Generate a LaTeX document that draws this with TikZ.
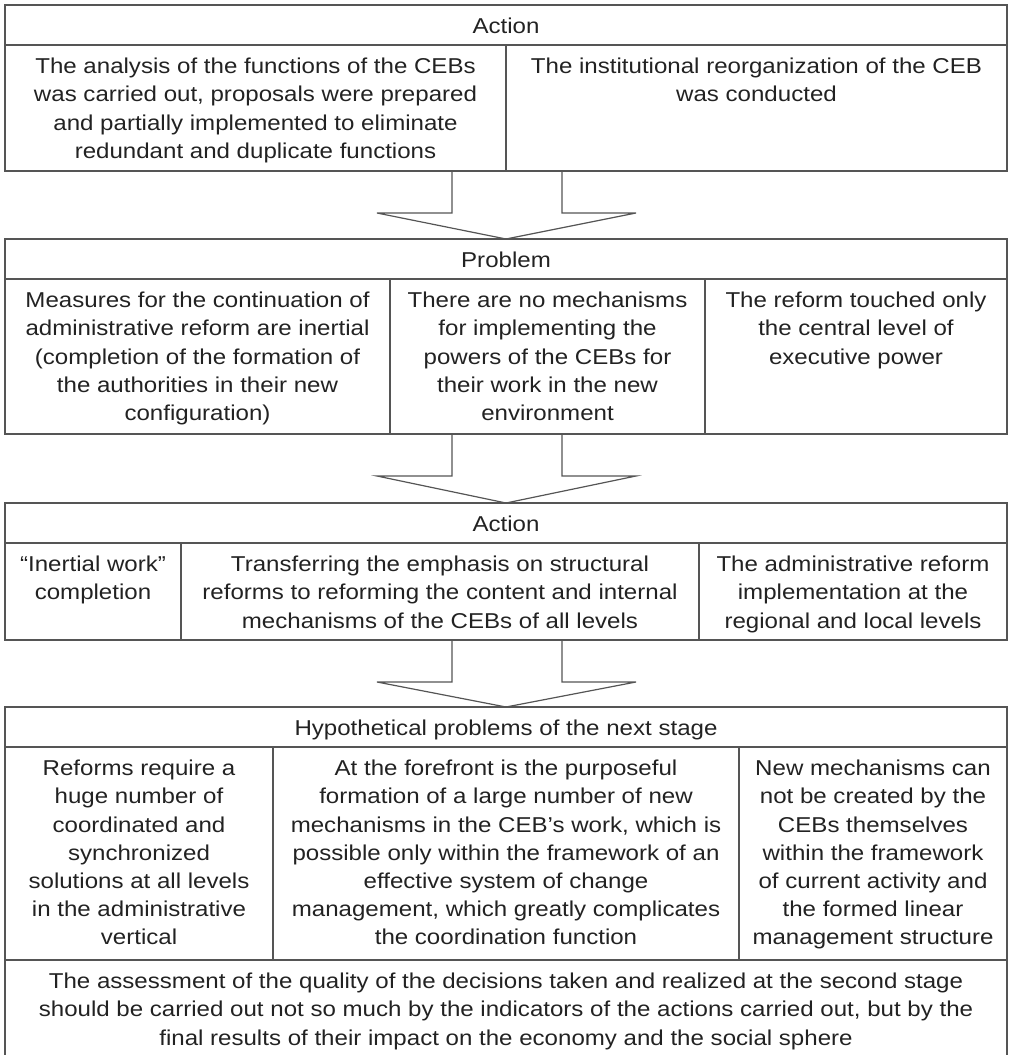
\documentclass[tikz,border=0pt]{standalone}
\usepackage{fontspec}
\setmainfont{Liberation Sans}[FakeStretch=1.12]
\usetikzlibrary{calc}
\definecolor{linec}{HTML}{555555}
\definecolor{textc}{HTML}{222222}
\tikzset{
  cell/.style={draw=linec, line width=1.2pt, anchor=north west, inner sep=0pt, outer sep=0pt},
  ctext/.style={anchor=north, inner sep=0pt, align=center, text=textc,
                font=\fontsize{21.5}{28.2}\selectfont},
  blockarrow/.style={draw=linec, line width=1.2pt, line join=miter}
}
\newcommand\fst{\rule{0pt}{17pt}}
\begin{document}
\begin{tikzpicture}[x=1pt,y=-1pt]
\useasboundingbox (0,0) rectangle (1009,1055);
% ---- box 1
\node[cell, minimum width=1002pt, minimum height=40pt] (h1) at (5,5) {};
\node[cell, minimum width=501pt, minimum height=126pt] (c11) at (5,45) {};
\node[cell, minimum width=501pt, minimum height=126pt] (c12) at (506,45) {};
% ---- box 2
\node[cell, minimum width=1002pt, minimum height=40pt] (h2) at (5,239) {};
\node[cell, minimum width=385pt, minimum height=155pt] (c21) at (5,279) {};
\node[cell, minimum width=315pt, minimum height=155pt] (c22) at (390,279) {};
\node[cell, minimum width=302pt, minimum height=155pt] (c23) at (705,279) {};
% ---- box 3
\node[cell, minimum width=1002pt, minimum height=40pt] (h3) at (5,503) {};
\node[cell, minimum width=176pt, minimum height=97pt] (c31) at (5,543) {};
\node[cell, minimum width=518pt, minimum height=97pt] (c32) at (181,543) {};
\node[cell, minimum width=308pt, minimum height=97pt] (c33) at (699,543) {};
% ---- box 4
\node[cell, minimum width=1002pt, minimum height=40pt] (h4) at (5,707) {};
\node[cell, minimum width=268pt, minimum height=213pt] (c41) at (5,747) {};
\node[cell, minimum width=466pt, minimum height=213pt] (c42) at (273,747) {};
\node[cell, minimum width=268pt, minimum height=213pt] (c43) at (739,747) {};
\node[cell, minimum width=1002pt, minimum height=98pt] (c44) at (5,960) {};
% ---- texts
\node[ctext] (th1) at ($(h1.north)+(0,11.5)$) {\fst Action};
\node[ctext] (t11) at ($(c11.north)+(0,11.5)$) {\fst The analysis of the functions of the CEBs\\was carried out, proposals were prepared\\and partially implemented to eliminate\\redundant and duplicate functions};
\node[ctext] (t12) at ($(c12.north)+(0,11.5)$) {\fst The institutional reorganization of the CEB\\was conducted};
\node[ctext] (th2) at ($(h2.north)+(0,11.5)$) {\fst Problem};
\node[ctext] (t21) at ($(c21.north)+(0,11.5)$) {\fst Measures for the continuation of\\administrative reform are inertial\\(completion of the formation of\\the authorities in their new\\configuration)};
\node[ctext] (t22) at ($(c22.north)+(0,11.5)$) {\fst There are no mechanisms\\for implementing the\\powers of the CEBs for\\their work in the new\\environment};
\node[ctext] (t23) at ($(c23.north)+(0,11.5)$) {\fst The reform touched only\\the central level of\\executive power};
\node[ctext] (th3) at ($(h3.north)+(0,11.5)$) {\fst Action};
\node[ctext] (t31) at ($(c31.north)+(0,11.5)$) {\fst “Inertial work”\\completion};
\node[ctext] (t32) at ($(c32.north)+(0,11.5)$) {\fst Transferring the emphasis on structural\\reforms to reforming the content and internal\\mechanisms of the CEBs of all levels};
\node[ctext] (t33) at ($(c33.north)+(0,11.5)$) {\fst The administrative reform\\implementation at the\\regional and local levels};
\node[ctext] (th4) at ($(h4.north)+(0,11.5)$) {\fst Hypothetical problems of the next stage};
\node[ctext] (t41) at ($(c41.north)+(0,11.5)$) {\fst Reforms require a\\huge number of\\coordinated and\\synchronized\\solutions at all levels\\in the administrative\\vertical};
\node[ctext] (t42) at ($(c42.north)+(0,11.5)$) {\fst At the forefront is the purposeful\\formation of a large number of new\\mechanisms in the CEB's work, which is\\possible only within the framework of an\\effective system of change\\management, which greatly complicates\\the coordination function};
\node[ctext] (t43) at ($(c43.north)+(0,11.5)$) {\fst New mechanisms can\\not be created by the\\CEBs themselves\\within the framework\\of current activity and\\the formed linear\\management structure};
\node[ctext] (t44) at ($(c44.north)+(0,11.5)$) {\fst The assessment of the quality of the decisions taken and realized at the second stage\\should be carried out not so much by the indicators of the actions carried out, but by the\\final results of their impact on the economy and the social sphere};
% ---- block arrows
\coordinate (b1) at (c11.south east);
\coordinate (b2) at (h2.center |- c22.south);
\coordinate (b3) at (h3.center |- c32.south);
\draw[blockarrow] ($(b1)+(-54,0)$) -- ($(b1)+(-54,42)$) -- ($(b1)+(-129,42)$) -- (h2.north) -- ($(b1)+(130,42)$) -- ($(b1)+(56,42)$) -- ($(b1)+(56,0)$);
\draw[blockarrow] ($(b2)+(-54,0)$) -- ($(b2)+(-54,42)$) -- ($(b2)+(-129,42)$) -- (h3.north) -- ($(b2)+(130,42)$) -- ($(b2)+(56,42)$) -- ($(b2)+(56,0)$);
\draw[blockarrow] ($(b3)+(-54,0)$) -- ($(b3)+(-54,42)$) -- ($(b3)+(-129,42)$) -- (h4.north) -- ($(b3)+(130,42)$) -- ($(b3)+(56,42)$) -- ($(b3)+(56,0)$);
\end{tikzpicture}
\end{document}
